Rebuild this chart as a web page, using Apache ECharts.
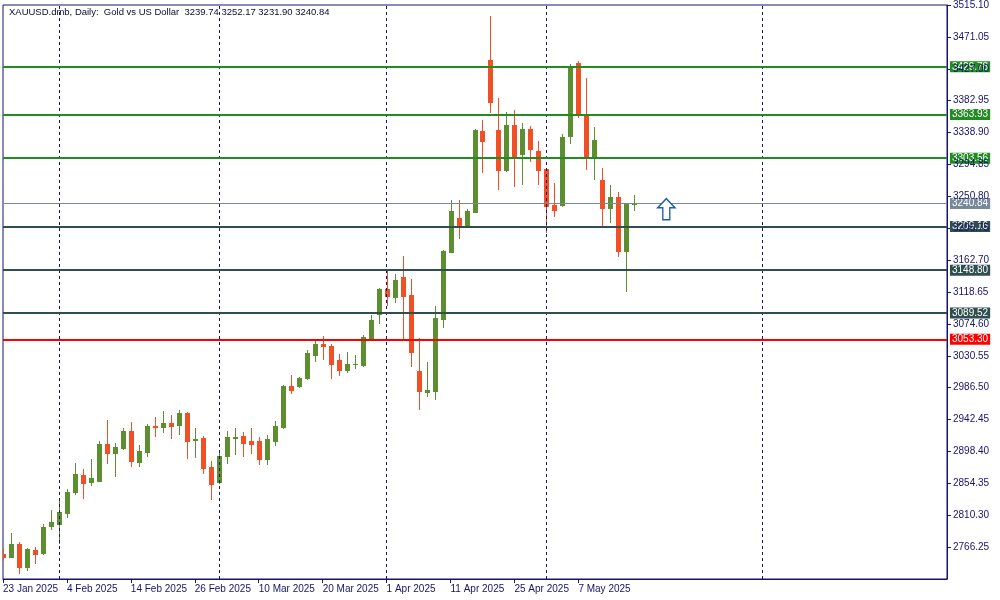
<!DOCTYPE html>
<html>
<head>
<meta charset="utf-8">
<script src="https://cdn.jsdelivr.net/npm/echarts@6/dist/echarts.min.js"></script>
<style>
html,body{margin:0;padding:0;background:#fff;}
#c{width:1000px;height:600px;}
</style>
</head>
<body>
<div id="c"></div>
<script>
const dates = ['23 Jan 2025','24 Jan 2025','27 Jan 2025','28 Jan 2025','29 Jan 2025','30 Jan 2025','31 Jan 2025',
'3 Feb 2025','4 Feb 2025','5 Feb 2025','6 Feb 2025','7 Feb 2025','10 Feb 2025','11 Feb 2025','12 Feb 2025','13 Feb 2025','14 Feb 2025','17 Feb 2025','18 Feb 2025','19 Feb 2025','20 Feb 2025','21 Feb 2025','24 Feb 2025','25 Feb 2025','26 Feb 2025','27 Feb 2025','28 Feb 2025',
'3 Mar 2025','4 Mar 2025','5 Mar 2025','6 Mar 2025','7 Mar 2025','10 Mar 2025','11 Mar 2025','12 Mar 2025','13 Mar 2025','14 Mar 2025','17 Mar 2025','18 Mar 2025','19 Mar 2025','20 Mar 2025','21 Mar 2025','24 Mar 2025','25 Mar 2025','26 Mar 2025','27 Mar 2025','28 Mar 2025','31 Mar 2025',
'1 Apr 2025','2 Apr 2025','3 Apr 2025','4 Apr 2025','7 Apr 2025','8 Apr 2025','9 Apr 2025','10 Apr 2025','11 Apr 2025','14 Apr 2025','15 Apr 2025','16 Apr 2025','17 Apr 2025','22 Apr 2025','23 Apr 2025','24 Apr 2025','25 Apr 2025','28 Apr 2025','29 Apr 2025','30 Apr 2025',
'1 May 2025','2 May 2025','5 May 2025','6 May 2025','7 May 2025','8 May 2025','9 May 2025','12 May 2025','13 May 2025','14 May 2025','15 May 2025','16 May 2025'];

const opens = [2756.6, 2752.9, 2770.4, 2739.1, 2762.1, 2758.4, 2795.6, 2798.3, 2813.5, 2842.4,
 2865.4, 2856.1, 2857.5, 2908.0, 2896.1, 2902.9, 2927.3, 2883.7, 2897.4, 2934.2,
 2931.9, 2938.3, 2934.6, 2952.1, 2914.0, 2916.3, 2876.4, 2856.1, 2891.9, 2916.7,
 2919.1, 2912.2, 2912.2, 2887.8, 2912.6, 2931.9, 2989.3, 2988.3, 2999.3, 3032.3,
 3047.1, 3044.3, 3025.0, 3010.3, 3019.1, 3017.2, 3054.4, 3088.8, 3122.8, 3112.2,
 3139.3, 3114.5, 3009.9, 2980.0, 2981.4, 3081.9, 3174.1, 3220.5, 3209.9, 3229.2,
 3341.7, 3439.4, 3343.0, 3287.0, 3349.9, 3309.0, 3344.4, 3312.8, 3288.0, 3238.4,
 3238.8, 3333.8, 3435.3, 3365.1, 3303.5, 3272.8, 3234.7, 3249.4, 3175.5, 3239.74];

const highs = [2764.9, 2785.5, 2773.1, 2765.3, 2766.7, 2797.9, 2817.2, 2831.0, 2846.1, 2881.9,
 2873.6, 2887.4, 2912.2, 2942.5, 2909.8, 2930.1, 2939.7, 2906.7, 2937.0, 2946.6,
 2954.8, 2949.3, 2956.2, 2953.5, 2930.1, 2920.4, 2884.6, 2896.1, 2927.3, 2930.1,
 2925.9, 2930.1, 2917.7, 2921.8, 2941.1, 2990.6, 3004.4, 3001.6, 3038.8, 3052.6,
 3058.1, 3047.1, 3033.3, 3036.1, 3031.9, 3059.5, 3087.0, 3124.0, 3148.9, 3143.4,
 3168.2, 3136.6, 3055.7, 3022.3, 3099.4, 3176.5, 3245.3, 3245.3, 3232.9, 3343.7,
 3356.8, 3500.0, 3387.1, 3367.8, 3370.6, 3352.7, 3348.5, 3327.9, 3288.5, 3268.7,
 3337.5, 3433.9, 3438.0, 3414.6, 3347.2, 3289.8, 3266.4, 3256.3, 3240.5, 3252.17];

const lows = [2748.4, 2752.5, 2730.9, 2734.6, 2744.2, 2756.6, 2791.4, 2771.3, 2808.0, 2839.6,
 2834.1, 2852.0, 2857.1, 2882.3, 2864.4, 2901.2, 2878.2, 2878.2, 2891.9, 2919.5,
 2925.0, 2916.7, 2922.2, 2889.2, 2890.6, 2868.5, 2832.7, 2855.0, 2882.3, 2894.7,
 2891.9, 2896.1, 2880.9, 2880.9, 2907.1, 2931.4, 2978.7, 2987.9, 2998.9, 3022.7,
 3025.5, 2999.3, 3003.4, 3007.6, 3013.1, 3016.5, 3053.5, 3076.4, 3101.2, 3105.3,
 3054.4, 3015.8, 2956.6, 2974.5, 2970.4, 3070.9, 3173.5, 3193.4, 3208.5, 3228.5,
 3284.3, 3366.8, 3260.9, 3286.0, 3265.0, 3267.7, 3299.4, 3267.7, 3201.7, 3223.7,
 3237.5, 3324.2, 3360.0, 3288.4, 3274.6, 3208.5, 3215.4, 3168.6, 3120.4, 3231.90];

const closes = [2752.9, 2770.4, 2739.1, 2763.5, 2757.0, 2793.8, 2800.7, 2814.4, 2842.0, 2866.7,
 2854.8, 2862.1, 2908.0, 2896.1, 2903.9, 2927.3, 2885.1, 2898.4, 2934.2, 2931.9,
 2938.3, 2933.2, 2952.1, 2912.6, 2914.9, 2875.4, 2853.4, 2891.9, 2917.7, 2917.7,
 2909.8, 2908.5, 2887.8, 2914.9, 2934.2, 2989.3, 2982.8, 3000.3, 3034.7, 3047.1,
 3043.4, 3018.6, 3010.3, 3019.5, 3019.5, 3056.7, 3080.1, 3122.8, 3113.6, 3135.2,
 3113.6, 3035.1, 2981.4, 2982.8, 3082.9, 3175.1, 3230.2, 3209.5, 3230.2, 3343.0,
 3326.9, 3380.6, 3287.0, 3349.9, 3303.1, 3344.4, 3315.9, 3287.0, 3237.5, 3231.9,
 3333.4, 3431.1, 3364.1, 3304.9, 3329.3, 3234.7, 3249.4, 3175.5, 3239.8, 3240.84];

// horizontal levels
const resistanceLevels = [3429.78, 3363.93, 3303.56];
const supportLevels = [3209.16, 3148.80, 3089.52];
const keyLevel = [3053.30];
const currentPrice = 3240.84;
// monthly period separators (bar positions)
const separatorBars = [7, 27, 48, 68, 95];
// arrow marker
const arrowPoint = [83, 3233];
const yTickStep = 44.05;
const yMin = 2722.20;
const yMax = 3515.10;

const NAVY = '#14146b';
const GREEN = '#5b8f2f';
const RED = '#f34f25';

// font selection (MT4-like narrow UI font)
const ctx = document.createElement('canvas').getContext('2d');
function fontAvailable(name) {
  const s = '3515.10 23 Jan 2025 WmiXAUUSD';
  ctx.font = '11px monospace';
  const a = ctx.measureText(s).width;
  ctx.font = "11px '" + name + "', monospace";
  const b = ctx.measureText(s).width;
  return Math.abs(a - b) > 0.5;
}
const narrow = ['Liberation Sans Narrow', 'Arial Narrow'].find(fontAvailable);
const FONT = narrow ? "'" + narrow + "', sans-serif" : "'Liberation Sans', Arial, sans-serif";
const AXIS_FS = narrow ? 11 : 10;
const titleText = 'XAUUSD.dmb, Daily:  Gold vs US Dollar  ' + opens[opens.length-1].toFixed(2) + ' ' +
  highs[highs.length-1].toFixed(2) + ' ' + lows[lows.length-1].toFixed(2) + ' ' + closes[closes.length-1].toFixed(2);
ctx.font = '11px ' + FONT;
const TITLE_FS = Math.max(9, Math.min(11, 11 * 321 / ctx.measureText(titleText).width));

const chart = echarts.init(document.getElementById('c'), null, {renderer: 'canvas'});

const labelIdx = dates.map((d, i) => i).filter(i => i % 8 === 0);

function levelItem(v, color, width) {
  return {
    yAxis: v,
    lineStyle: {color: color, width: width, type: 'solid'},
    label: {
      show: true, position: 'end', distance: 3,
      formatter: () => v.toFixed(2),
      color: '#fff', backgroundColor: color,
      padding: [1, 2, 0, 2], fontSize: AXIS_FS, fontFamily: FONT
    }
  };
}

const levelData = []
  .concat(resistanceLevels.map(v => levelItem(v, '#228b22', 2)))
  .concat(supportLevels.map(v => levelItem(v, '#2f4f4f', 2)))
  .concat(keyLevel.map(v => levelItem(v, '#ff0000', 2)))
  .concat([levelItem(currentPrice, '#778899', 1)]);

const option = {
  animation: false,
  backgroundColor: '#ffffff',
  title: {
    text: titleText,
    left: 4, top: 3,
    textStyle: {fontSize: TITLE_FS, fontWeight: 'normal', color: '#0a0a30', fontFamily: FONT}
  },
  grid: {left: 2, top: 3, width: 945, height: 576, show: true, borderColor: NAVY, borderWidth: 1, backgroundColor: '#fff'},
  xAxis: {
    type: 'value', min: 0, max: 118.125, interval: 8,
    splitLine: {show: false},
    axisLine: {show: true, onZero: false, lineStyle: {color: NAVY, width: 1}},
    axisTick: {show: true, length: 4, lineStyle: {color: NAVY}, customValues: labelIdx},
    axisLabel: {
      customValues: labelIdx,
      formatter: v => dates[v] || '',
      align: 'left', margin: 5, color: NAVY, fontSize: AXIS_FS, fontFamily: FONT,
      hideOverlap: false
    }
  },
  yAxis: {
    type: 'value', position: 'right', min: yMin, max: yMax, interval: yTickStep, z: 5,
    splitLine: {show: false},
    axisLine: {show: true, onZero: false, lineStyle: {color: NAVY, width: 1}},
    axisTick: {show: true, length: 4, lineStyle: {color: NAVY}},
    axisLabel: {
      formatter: v => v.toFixed(2), color: NAVY, fontSize: AXIS_FS, fontFamily: FONT,
      margin: 6, align: 'left', showMinLabel: false, showMaxLabel: true
    }
  },
  series: [
    {
      type: 'line', name: 'separators', data: [], z: 1, silent: true,
      markLine: {
        symbol: 'none', silent: true, animation: false,
        lineStyle: {color: NAVY, width: 1, type: [3, 3]},
        label: {show: false},
        data: separatorBars.map(b => ({xAxis: b}))
      }
    },
    {
      type: 'line', name: 'levels', data: [], z: 2, silent: true,
      markLine: {
        symbol: 'none', silent: true, animation: false,
        data: levelData
      },
      markPoint: {
        silent: true, animation: false,
        data: [{
          coord: arrowPoint,
          symbol: 'path://M8.5,0 L17,9 L12,9 L12,21 L5,21 L5,9 L0,9 Z',
          symbolSize: [17, 21],
          itemStyle: {color: '#ffffff', borderColor: '#1c5fb0', borderWidth: 1.5},
          label: {show: false}
        }]
      }
    },
    {
      type: 'custom', name: 'XAUUSD', z: 4, clip: true,
      data: dates.map((d, i) => [i, opens[i], closes[i], lows[i], highs[i]]),
      encode: {x: 0, y: [1, 2, 3, 4]},
      renderItem: function (params, api) {
        const i = api.value(0), o = api.value(1), c = api.value(2), l = api.value(3), h = api.value(4);
        const po = api.coord([i, o]), pc = api.coord([i, c]), pl = api.coord([i, l]), ph = api.coord([i, h]);
        const x = Math.round(po[0]);
        const color = c >= o ? GREEN : RED;
        const top = Math.round(Math.min(po[1], pc[1]));
        const bot = Math.round(Math.max(po[1], pc[1]));
        const yh = Math.round(ph[1]), yl = Math.round(pl[1]);
        return {
          type: 'group',
          children: [
            {type: 'rect', shape: {x: x, y: yh, width: 1, height: Math.max(1, yl - yh + 1)}, style: {fill: color}},
            {type: 'rect', shape: {x: x - 2, y: top, width: 5, height: Math.max(1, bot - top + 1)}, style: {fill: color}}
          ]
        };
      }
    }
  ]
};

chart.setOption(option);
</script>
</body>
</html>
